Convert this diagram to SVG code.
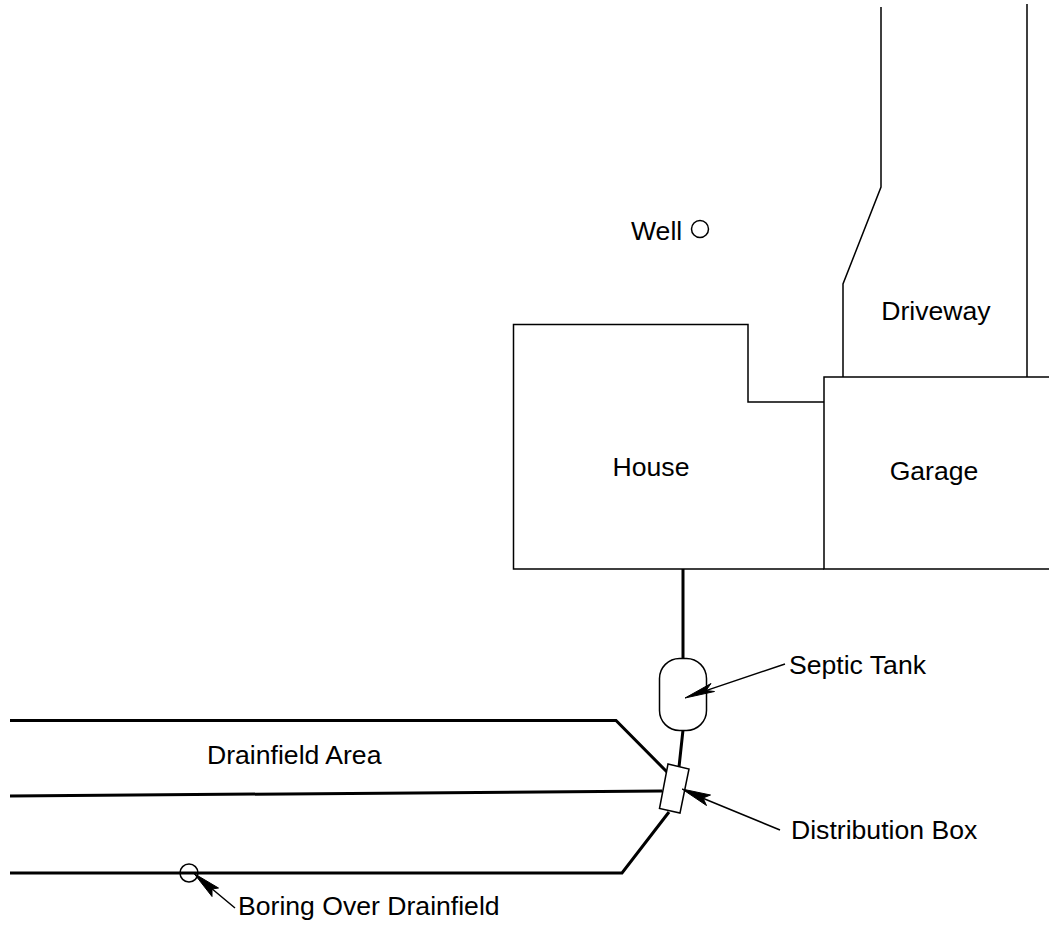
<svg xmlns="http://www.w3.org/2000/svg" width="1049" height="926" viewBox="0 0 1049 926">
<style>
.t{font-family:"Liberation Sans",Arial,sans-serif;font-size:26.6px;fill:#000}
.thin{fill:none;stroke:#000;stroke-width:1.5;stroke-linejoin:miter}
.shape{fill:#fff;stroke:#000;stroke-width:1.5}
.thick{fill:none;stroke:#000;stroke-width:3;stroke-linejoin:miter}
.lead{fill:none;stroke:#000;stroke-width:1.5}
.head{fill:#000;stroke:#000;stroke-width:1;stroke-linejoin:miter}
</style>
<rect width="1049" height="926" fill="#fff"/>
<g id="driveway"><path class="thin" d="M881 7V187L843 284V377M1027 4V377"/><text class="t" x="936" y="320" text-anchor="middle">Driveway</text></g>
<g id="well"><text class="t" x="631" y="240">Well</text><circle class="thin" cx="700" cy="229" r="8.5"/></g>
<g id="house"><path class="thin" d="M824 569H513.500V324.500H748V402H824"/><text class="t" x="651" y="476" text-anchor="middle">House</text></g>
<g id="garage"><path class="thin" d="M1049 377H824V569H1049"/><text class="t" x="934" y="480" text-anchor="middle">Garage</text></g>
<g id="connectors">
<path class="thick" d="M683 569V659M683 730L679 767"/>
<path class="thick" d="M10 720.500H616L669 774M10 796L662 791M10 873H622L669 812"/>
<path class="lead" d="M785 664L700 692.600M780 830L695 795M235 908L205 883"/>
</g>
<g id="septic-tank"><rect class="shape" x="659.500" y="658.500" width="47" height="72" rx="20" ry="20"/><text class="t" x="789" y="674">Septic Tank</text></g>
<g id="distribution-box"><polygon class="shape" points="668,764 689,769 680,813 659.500,808.500"/><text class="t" x="791" y="839">Distribution Box</text></g>
<g id="drainfield-area"><text class="t" x="207" y="764">Drainfield Area</text></g>
<g id="boring"><circle class="thin" cx="189" cy="873" r="9"/><text class="t" x="238" y="915">Boring Over Drainfield</text></g>
<g id="arrowheads">
<polygon class="head" points="685,698 711,683.500 706,690.500 714.500,691.500"/>
<polygon class="head" points="682,789 710.500,795 703,798 706.500,805.500"/>
<polygon class="head" points="194,873.500 218.500,888 212,889 212,896.500"/>
</g>
</svg>
